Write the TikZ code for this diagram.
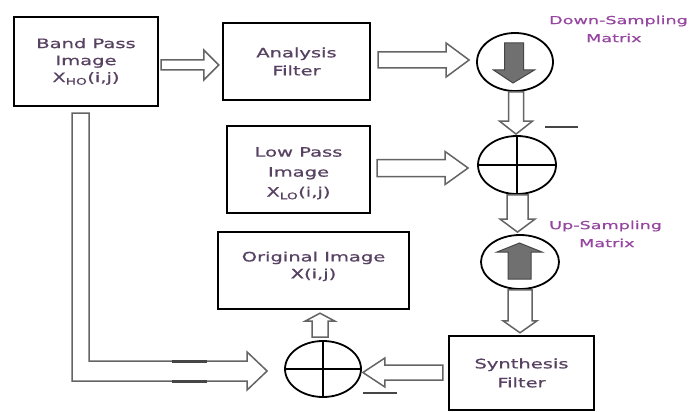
\documentclass[tikz,border=0pt]{standalone}
\usepackage{fontspec}
\newfontfamily\boxfont[FakeStretch=1.5,FakeBold=0.8]{DejaVu Sans}
\newfontfamily\lblfont[FakeStretch=1.6,FakeBold=0.6]{DejaVu Sans}
\usetikzlibrary{shapes.geometric,calc}
\definecolor{boxtxt}{RGB}{88,66,98}
\definecolor{lbltxt}{RGB}{150,70,160}
\definecolor{arrgray}{RGB}{100,100,100}
\definecolor{fillgray}{RGB}{112,112,112}
\definecolor{markgray}{RGB}{70,70,70}
\tikzset{
  blk/.style={draw=arrgray,line width=1.5pt,fill=white,line join=miter},
  solidarr/.style={draw=markgray,line width=1pt,fill=fillgray},
  box/.style={draw=black,line width=2.4pt,align=center,text=boxtxt,
    font=\boxfont\fontsize{13}{17}\selectfont,inner sep=0pt},
  oval/.style={ellipse,draw=black,line width=1.8pt,inner sep=0pt},
  lbl/.style={text=lbltxt,align=left,inner sep=0pt,
    font=\lblfont\fontsize{11}{18}\selectfont},
  minus/.style={draw=markgray,line width=2pt},
  thickmark/.style={draw=markgray,line width=3pt}
}
% hollow block arrows: #1 start, #2 tip, #3 shaft half width, #4 head half width, #5 head length
\newcommand\arrR[5]{\draw[blk] let \p1=(#1),\p2=(#2) in
  (\x1,\y2+#3pt) -- (\x2-#5pt,\y2+#3pt) -- (\x2-#5pt,\y2+#4pt) -- (\x2,\y2)
  -- (\x2-#5pt,\y2-#4pt) -- (\x2-#5pt,\y2-#3pt) -- (\x1,\y2-#3pt) -- cycle;}
\newcommand\arrL[5]{\draw[blk] let \p1=(#1),\p2=(#2) in
  (\x1,\y2+#3pt) -- (\x2+#5pt,\y2+#3pt) -- (\x2+#5pt,\y2+#4pt) -- (\x2,\y2)
  -- (\x2+#5pt,\y2-#4pt) -- (\x2+#5pt,\y2-#3pt) -- (\x1,\y2-#3pt) -- cycle;}
\newcommand\arrD[5]{\draw[blk] let \p1=(#1),\p2=(#2) in
  (\x2-#3pt,\y1) -- (\x2-#3pt,\y2+#5pt) -- (\x2-#4pt,\y2+#5pt) -- (\x2,\y2)
  -- (\x2+#4pt,\y2+#5pt) -- (\x2+#3pt,\y2+#5pt) -- (\x2+#3pt,\y1) -- cycle;}
\newcommand\arrU[5]{\draw[blk] let \p1=(#1),\p2=(#2) in
  (\x2-#3pt,\y1) -- (\x2-#3pt,\y2-#5pt) -- (\x2-#4pt,\y2-#5pt) -- (\x2,\y2)
  -- (\x2+#4pt,\y2-#5pt) -- (\x2+#3pt,\y2-#5pt) -- (\x2+#3pt,\y1) -- cycle;}
\begin{document}
\begin{tikzpicture}[x=1pt,y=-1pt]
\useasboundingbox[fill=white] (0,0) rectangle (694,412);

% boxes
\node[box,minimum width=144,minimum height=89] (bp) at (86,61.5)
  {Band Pass\\Image\\X\textsubscript{HO}(i,j)};
\node[box,minimum width=147,minimum height=77,
  font=\boxfont\fontsize{13}{18}\selectfont] (af) at (296.5,61.5)
  {Analysis\\Filter};
\node[box,minimum width=143,minimum height=87,
  font=\boxfont\fontsize{13}{20}\selectfont] (lp) at (298.5,169.5)
  {\rule{0pt}{17pt}Low Pass\\Image\\X\textsubscript{LO}(i,j)};
\node[box,minimum width=191,minimum height=77] (oi) at (313.5,270.5)
  {Original Image\\X(i,j)\rule[-11pt]{0pt}{11pt}};
\node[box,minimum width=145,minimum height=74,
  font=\boxfont\fontsize{13}{19}\selectfont] (sf) at (521.5,373)
  {Synthesis\\Filter};

% ovals
\node[oval,minimum width=76,minimum height=58] (ds) at (515,62) {};
\node[oval,minimum width=78,minimum height=58] (pm) at (517,165) {};
\node[oval,minimum width=78,minimum height=54] (us) at (520,262) {};
\node[oval,minimum width=76,minimum height=56] (bpl) at (323,369) {};

% plus signs
\draw[line width=1.8pt] (pm.north) -- (pm.south) (pm.west) -- (pm.east);
\draw[line width=1.8pt] (bpl.north) -- (bpl.south) (bpl.west) -- (bpl.east);

% solid arrows in sampling ovals
\draw[solidarr] ($(ds)+(-10.5,-19)$) -- ($(ds)+(-10.5,8)$) -- ($(ds)+(-21.5,8)$)
  -- ($(ds)+(-2,21)$) -- ($(ds)+(19.5,8)$) -- ($(ds)+(8.5,8)$) -- ($(ds)+(8.5,-19)$) -- cycle;
\draw[solidarr] ($(us)+(-12,17)$) -- ($(us)+(-12,-10)$) -- ($(us)+(-23,-10)$)
  -- ($(us)+(-0.5,-19)$) -- ($(us)+(22,-10)$) -- ($(us)+(11,-10)$) -- ($(us)+(11,17)$) -- cycle;

% hollow arrows
\arrR{$(bp.east)+(2,0)$}{$(af.west)+(-3,3.5)$}{5}{15}{15}
\arrR{$(af.east)+(7,0)$}{$(ds.west)+(-7,-2)$}{8}{17}{23}
\arrR{$(lp.east)+(6,0)$}{$(pm.west)+(-9,3)$}{8.5}{16.5}{23}
\arrD{$(ds.south)+(0,0)$}{$(pm.north)+(-1,-1)$}{7.5}{16.5}{13}
\arrD{$(pm.south)+(0,0)$}{$(us.north)+(-2.5,-2)$}{10.5}{17.5}{13}
\arrD{$(us.south)+(0,0)$}{$(sf.north)+(-1.5,-2)$}{12}{17}{12}
\arrL{$(sf.west)+(-5,0)$}{$(bpl.east)+(1,3.5)$}{7.5}{14.5}{22}
\arrU{$(bpl.north)+(0,-3)$}{$(oi.south)+(6.5,3)$}{8}{15}{8}

% long L-shaped arrow from band pass image to the lower adder
\draw[blk] let \p1=($(bp.south)+(-14,6)$), \p2=($(bpl.west)+(-17,2)$) in
  (\x1,\y1) -- (\x1,\y2-10pt) -- (\x2-20pt,\y2-10pt) -- (\x2-20pt,\y2-19pt)
  -- (\x2,\y2) -- (\x2-20pt,\y2+19pt) -- (\x2-20pt,\y2+10pt)
  -- (\x1+17pt,\y2+10pt) -- (\x1+17pt,\y1) -- cycle;
\draw[thickmark] (172,361) -- (207,361);
\draw[thickmark] (172,381) -- (207,381);

% minus signs
\draw[minus] ($(pm)+(28,-38)$) -- ($(pm)+(61,-38)$);
\draw[minus] ($(bpl)+(40,24)$) -- ($(bpl)+(74,24)$);

% labels
\node[lbl,anchor=west] (dslbl) at (549,29) {Down-Sampling\\\hspace*{37pt}Matrix};
\node[lbl,anchor=west] (uslbl) at (549,234) {Up-Sampling\\\hspace*{30pt}Matrix};
\end{tikzpicture}
\end{document}
